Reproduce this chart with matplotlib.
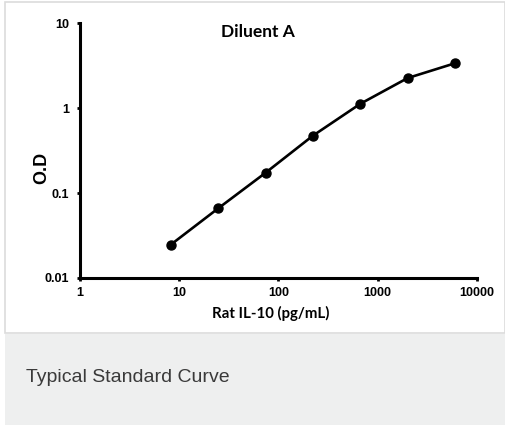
import matplotlib
matplotlib.use("Agg")
import matplotlib.pyplot as plt
from matplotlib.patches import Rectangle
from matplotlib.ticker import FixedLocator, FixedFormatter, NullLocator

concentration = [8.23, 24.7, 74.1, 222, 667, 2000, 6000]
od = [0.0247, 0.066, 0.173, 0.472, 1.12, 2.25, 3.36]
x_ticks = [1, 10, 100, 1000, 10000]
x_labels = ["1", "10", "100", "1000", "10000"]
y_ticks = [0.01, 0.1, 1, 10]
y_labels = ["0.01", "0.1", "1", "10"]

W, H = 506, 425
fig = plt.figure(figsize=(W / 100, H / 100), dpi=100)
fig.patch.set_facecolor("white")

# white chart panel with light border
fig.patches.append(Rectangle((5.5 / W, 1 - 333 / H), (W - 6) / W, 331 / H,
                             transform=fig.transFigure, facecolor="white",
                             edgecolor="#dcdcdc", linewidth=1.2, zorder=-2))
# gray caption panel
fig.patches.append(Rectangle((5 / W, 0), (W - 5) / W, 91 / H,
                             transform=fig.transFigure, facecolor="#eeefef",
                             edgecolor="none", zorder=-2))
fig.text(26 / W, 1 - 378 / H, "Typical Standard Curve", fontsize=14,
         family="Liberation Sans", color="#3a3a3a", va="center", ha="left")

ax = fig.add_axes([80 / W, 1 - 278 / H, 397 / W, 255 / H])
ax.set_zorder(5)
ax.set_facecolor("none")
ax.set_xscale("log")
ax.set_yscale("log")
ax.set_xlim(1, 10000)
ax.set_ylim(0.01, 10)

ax.plot(concentration, od, color="black", linewidth=1.9, marker="o",
        markersize=6.5, clip_on=False)

for s in ["top", "right"]:
    ax.spines[s].set_visible(False)
for s in ["left", "bottom"]:
    ax.spines[s].set_linewidth(2.2)

ax.xaxis.set_major_locator(FixedLocator(x_ticks))
ax.xaxis.set_major_formatter(FixedFormatter(x_labels))
ax.yaxis.set_major_locator(FixedLocator(y_ticks))
ax.yaxis.set_major_formatter(FixedFormatter(y_labels))
ax.xaxis.set_minor_locator(NullLocator())
ax.yaxis.set_minor_locator(NullLocator())
ax.tick_params(which="major", length=2.5, width=2, direction="out")
ax.tick_params(axis="x", pad=4)
ax.tick_params(axis="y", pad=5.5)
for lab in ax.get_xticklabels() + ax.get_yticklabels():
    lab.set_family("Liberation Sans")
    lab.set_fontweight("bold")
    lab.set_fontsize(9)

ax.set_xlabel("Rat IL-10 (pg/mL)", family="Lato", fontweight="bold",
              fontsize=10.8)
ax.xaxis.set_label_coords(0.481, -0.108)
ax.set_ylabel("O.D", family="Liberation Sans", fontweight="bold",
              fontsize=13)
ax.yaxis.set_label_coords(-0.076, 0.431)

fig.text(258 / W, 1 - 32 / H, "Diluent A", family="Lato", fontweight="bold",
         fontsize=12.5, ha="center", va="center")

fig.savefig("out.png", dpi=100)
